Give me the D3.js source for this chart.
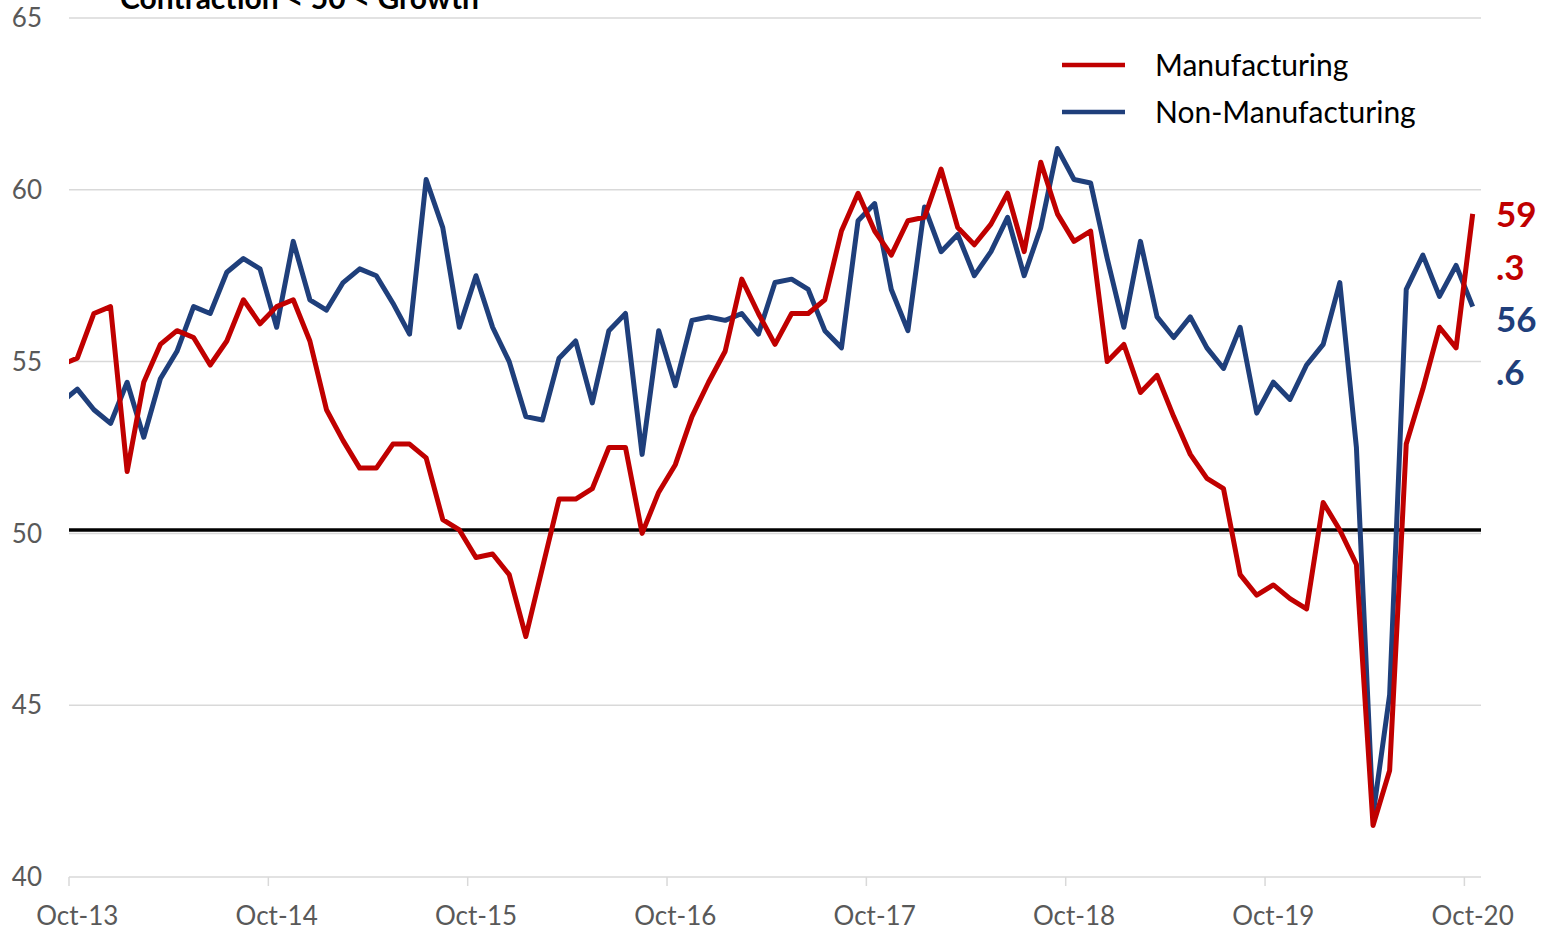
<!DOCTYPE html>
<html>
<head>
<meta charset="utf-8">
<script src="https://cdn.jsdelivr.net/npm/d3@7"></script>
<style>
  body { margin: 0; background: #fff; }
  text { font-family: Lato, "Open Sans", sans-serif; }
</style>
</head>
<body>
<div id="chart_container"></div>
<script>
// monthly ISM readings, Sep-13 .. Oct-20 (Sep-13 sits left of the axis and gets clipped)
var first_month = new Date(2013, 8, 1)

var manufacturing = [54.9,
    55.1, 56.4, 56.6, 51.8, 54.4, 55.5, 55.9, 55.7, 54.9, 55.6,
    56.8, 56.1, 56.6, 56.8, 55.6, 53.6, 52.7, 51.9, 51.9, 52.6,
    52.6, 52.2, 50.4, 50.1, 49.3, 49.4, 48.8, 47.0, 49.0, 51.0,
    51.0, 51.3, 52.5, 52.5, 50.0, 51.2, 52.0, 53.4, 54.4, 55.3,
    57.4, 56.4, 55.5, 56.4, 56.4, 56.8, 58.8, 59.9, 58.8, 58.1,
    59.1, 59.2, 60.6, 58.9, 58.4, 59.0, 59.9, 58.2, 60.8, 59.3,
    58.5, 58.8, 55.0, 55.5, 54.1, 54.6, 53.4, 52.3, 51.6, 51.3,
    48.8, 48.2, 48.5, 48.1, 47.8, 50.9, 50.1, 49.1, 41.5, 43.1,
    52.6, 54.2, 56.0, 55.4, 59.3]

var non_manufacturing = [53.8,
    54.2, 53.6, 53.2, 54.4, 52.8, 54.5, 55.3, 56.6, 56.4, 57.6,
    58.0, 57.7, 56.0, 58.5, 56.8, 56.5, 57.3, 57.7, 57.5, 56.7,
    55.8, 60.3, 58.9, 56.0, 57.5, 56.0, 55.0, 53.4, 53.3, 55.1,
    55.6, 53.8, 55.9, 56.4, 52.3, 55.9, 54.3, 56.2, 56.3, 56.2,
    56.4, 55.8, 57.3, 57.4, 57.1, 55.9, 55.4, 59.1, 59.6, 57.1,
    55.9, 59.5, 58.2, 58.7, 57.5, 58.2, 59.2, 57.5, 58.9, 61.2,
    60.3, 60.2, 58.0, 56.0, 58.5, 56.3, 55.7, 56.3, 55.4, 54.8,
    56.0, 53.5, 54.4, 53.9, 54.9, 55.5, 57.3, 52.5, 41.8, 45.3,
    57.1, 58.1, 56.9, 57.8, 56.6]

var series_names = ['Manufacturing', 'Non-Manufacturing']
var series_colors = ['#c00000', '#1f3f7b']

var x_tick_labels = ['Oct-13', 'Oct-14', 'Oct-15', 'Oct-16', 'Oct-17', 'Oct-18', 'Oct-19', 'Oct-20']
var y_ticks = [40, 45, 50, 55, 60, 65]
var threshold_value = 50.1
var title_text = 'Contraction < 50 < Growth'

// last values shown as wrapped data labels on the right
var end_labels = [['59', '.3'], ['56', '.6']]


var months = d3.timeMonth.range(first_month, new Date(2020, 10, 1))
var fmt = d3.timeFormat('%b-%y')

var margin = {top: 18, right: 66, bottom: 53, left: 69},
    width = 1547 - margin.left - margin.right,
    height = 930 - margin.top - margin.bottom

var svg_root = d3.select('#chart_container')
                .append('svg')
                .attr('width', 1547)
                .attr('height', 930)

var svg = svg_root.append('g')
                .attr('transform', 'translate(' + margin.left + ',' + margin.top + ')')

// category axis: Oct-13 is the first full band, points in band centres
var first_index = months.findIndex(function(m){ return fmt(m) == 'Oct-13' })
var last_index = months.length - 1
var x = d3.scaleLinear()
            .domain([first_index - 0.5, last_index + 0.5])
            .range([0, width])

var y = d3.scaleLinear()
            .domain([40, 65])
            .range([height, 0])

// gridlines
svg.append('g')
    .selectAll('line')
    .data(y_ticks.filter(function(d){ return d != 40 }))
    .enter()
    .append('line')
        .attr('x1', 0)
        .attr('x2', width)
        .attr('y1', function(d){ return y(d) })
        .attr('y2', function(d){ return y(d) })
        .attr('stroke', '#d9d9d9')
        .attr('stroke-width', 1.5)

// y labels
svg.append('g')
    .selectAll('text')
    .data(y_ticks)
    .enter()
    .append('text')
        .attr('x', -27)
        .attr('y', function(d){ return y(d) })
        .attr('dy', '0.35em')
        .attr('text-anchor', 'end')
        .attr('fill', '#595959')
        .style('font-size', '26px')
        .text(function(d){ return d })

// bottom axis line + ticks on band boundaries
var tick_idx = x_tick_labels.map(function(l){ return months.findIndex(function(m){ return fmt(m) == l }) })
var x_axis = svg.append('g').attr('transform', 'translate(0,' + height + ')')
x_axis.append('line')
    .attr('x1', 0).attr('x2', width)
    .attr('stroke', '#d9d9d9').attr('stroke-width', 1.5)
x_axis.selectAll('.tick_mark')
    .data(tick_idx)
    .enter()
    .append('line')
        .attr('x1', function(d){ return x(d - 0.5) })
        .attr('x2', function(d){ return x(d - 0.5) })
        .attr('y1', 0).attr('y2', 9)
        .attr('stroke', '#d9d9d9').attr('stroke-width', 1.5)
x_axis.selectAll('.tick_label')
    .data(x_tick_labels)
    .enter()
    .append('text')
        .attr('x', function(d, i){ return x(tick_idx[i]) })
        .attr('y', 48)
        .attr('text-anchor', 'middle')
        .attr('fill', '#595959')
        .style('font-size', '26px')
        .text(function(d){ return d })

// 50 line
svg.append('line')
    .attr('x1', 0).attr('x2', width)
    .attr('y1', y(threshold_value)).attr('y2', y(threshold_value))
    .attr('stroke', '#000').attr('stroke-width', 3.5)

svg.append('clipPath').attr('id', 'plot_clip')
    .append('rect').attr('x', 0).attr('y', -10).attr('width', width).attr('height', height + 20)

var series_data = [manufacturing, non_manufacturing]

var line = d3.line()
            .x(function(d, i){ return x(i) })
            .y(function(d){ return y(d) })

svg.append('g')
    .attr('clip-path', 'url(#plot_clip)')
    .selectAll('path')
    .data(series_data.slice().reverse())
    .enter()
    .append('path')
        .attr('fill', 'none')
        .attr('stroke', function(d, i){ return series_colors[1 - i] })
        .attr('stroke-width', 5)
        .attr('stroke-linejoin', 'round')
        .attr('d', line)

// end labels, stacked under the manufacturing end point
var label_top = y(manufacturing[last_index])
end_labels.forEach(function(parts, s){
    parts.forEach(function(p, k){
        svg.append('text')
            .attr('x', width + 15)
            .attr('y', label_top + 1 + (s * 2 + k) * 52.5)
            .attr('dy', '0.35em')
            .attr('fill', series_colors[s])
            .style('font-size', '35px')
            .style('font-weight', 'bold')
            .text(p)
    })
})

// legend
var legend = svg_root.append('g').attr('transform', 'translate(1062,65)')
series_names.forEach(function(n, i){
    legend.append('line')
        .attr('x1', 0).attr('x2', 63)
        .attr('y1', i * 47).attr('y2', i * 47)
        .attr('stroke', series_colors[i]).attr('stroke-width', 4.5)
    legend.append('text')
        .attr('x', 93)
        .attr('y', i * 47)
        .attr('dy', '0.35em')
        .attr('fill', '#000')
        .style('font-size', '30px')
        .text(n)
})

// title, cut by the top edge like the source
svg_root.append('text')
    .attr('x', 120)
    .attr('y', 9)
    .attr('fill', '#000')
    .style('font-size', '30px')
    .style('font-weight', 'bold')
    .text(title_text)
</script>
</body>
</html>
